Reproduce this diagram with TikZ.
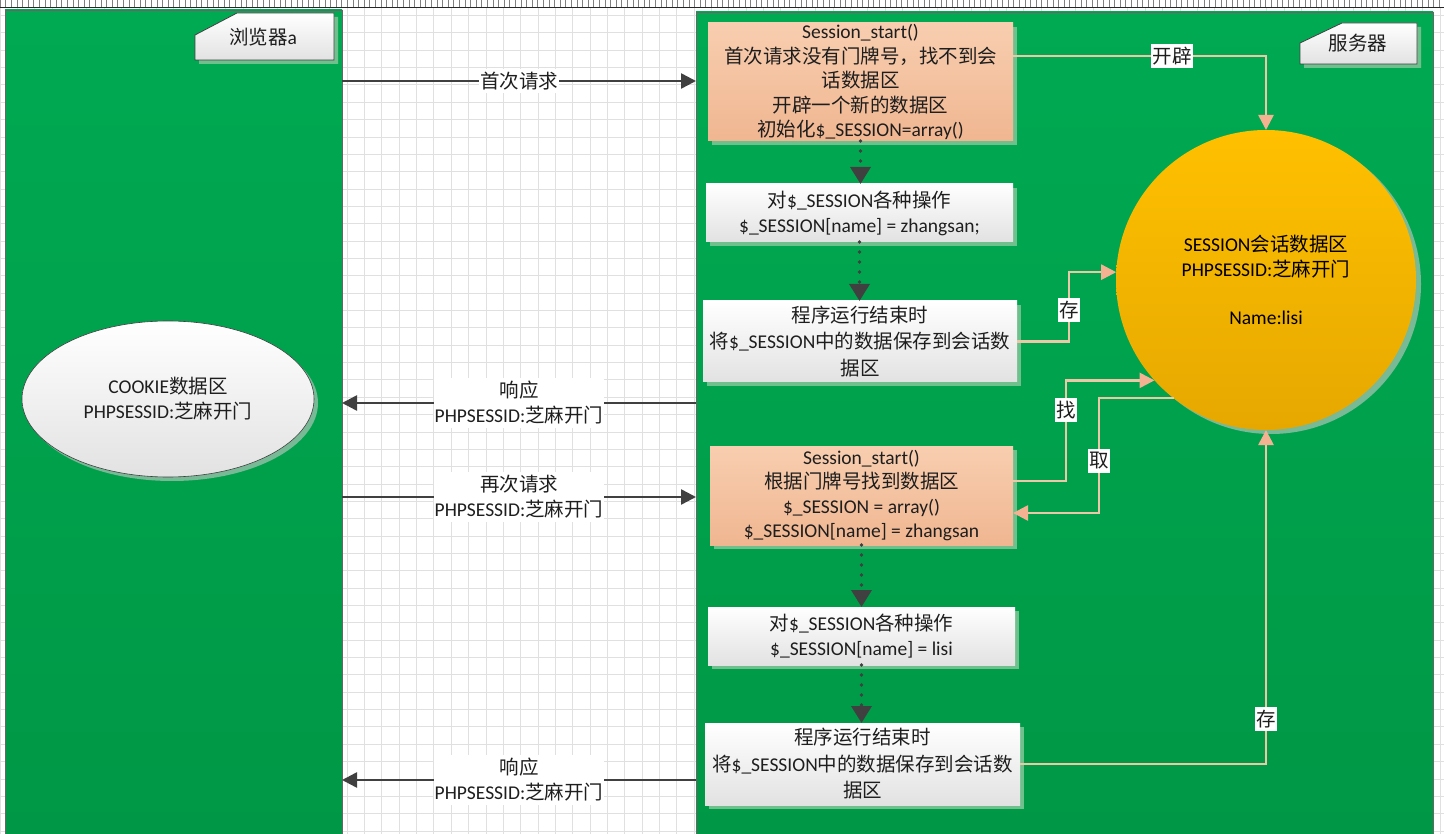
\documentclass[tikz,border=0pt]{standalone}
\usepackage{fontspec}
\setmainfont{Carlito}
\newfontfamily\zhfont{Noto Sans CJK SC}
\newcommand\zh[1]{{\zhfont #1}}
\usetikzlibrary{arrows.meta,shapes.geometric,shadows}
\definecolor{gridc}{RGB}{224,224,224}
\definecolor{gtop}{RGB}{0,170,82}
\definecolor{gbot}{RGB}{0,152,70}
\definecolor{shadowg}{RGB}{112,192,142}
\definecolor{shadowc}{RGB}{120,185,150}
\definecolor{peachtop}{RGB}{248,206,176}
\definecolor{peachbot}{RGB}{240,182,145}
\definecolor{boxbot}{RGB}{226,226,226}
\definecolor{darkline}{RGB}{64,64,64}
\definecolor{pkline}{RGB}{236,200,168}
\definecolor{pkhead}{RGB}{244,178,146}
\definecolor{goldtop}{RGB}{255,192,0}
\definecolor{goldbot}{RGB}{230,168,0}
\definecolor{txt}{RGB}{30,30,30}
\tikzset{
  base/.style={font=\fontsize{19.5}{25}\selectfont, text=txt, align=center, inner sep=0pt, outer sep=0pt},
  panel/.style={rectangle, top color=gtop, bottom color=gbot, draw=darkline!80, line width=0.8pt, inner sep=0pt, outer sep=0pt},
  boxshadow/.style={drop shadow={shadow xshift=4pt, shadow yshift=-4pt, fill=shadowg, opacity=1}},
  whitebox/.style={base, rectangle, top color=white, bottom color=boxbot, boxshadow},
  peachbox/.style={base, rectangle, top color=peachtop, bottom color=peachbot, boxshadow},
  darr/.style={draw=darkline, line width=2.5pt, -{Triangle[length=15pt,width=15pt]}},
  dotarr/.style={draw=darkline, line width=3.6pt, line cap=round, dash pattern=on 0pt off 10pt, -{Triangle[length=17pt,width=20pt]}},
  pk/.style={draw=pkline, line width=2.6pt, -{Triangle[length=15pt,width=15pt,color=pkhead]}},
  arrlbl/.style={base, fill=white, inner xsep=1pt, inner ysep=3pt},
  pklbl/.style={base, fill=white, inner xsep=1.5pt, inner ysep=3pt},
  tag/.style={draw=darkline, line width=0.8pt, top color=white, bottom color=boxbot},
}
\begin{document}
\begin{tikzpicture}[x=1pt,y=-1pt]
\useasboundingbox (0,0) rectangle (1444,834);
\fill[white] (0,0) rectangle (1444,834);
% grid
\foreach \i in {0,...,84} \draw[gridc, line width=0.6pt] (\i*17.35, 8) -- (\i*17.35, 834);
\foreach \j in {0,...,47} \draw[gridc, line width=0.6pt] (0, 15.4+\j*17.35) -- (1444, 15.4+\j*17.35);
% ruler
\fill[white] (0,0) rectangle (1444,7);
\foreach \i in {0,...,258} \draw[gray, line width=0.6pt] (\i*5.6, 0) -- (\i*5.6, 7);
\draw[black!85, line width=1.2pt] (0,7.5) -- (1444,7.5);

% panels
\node[panel, minimum width=337pt, minimum height=824pt] (lp) at (173.5,422) {};
\node[panel, minimum width=737pt, minimum height=822pt] (rp) at (1064.5,423) {};

% header tags
\fill[shadowg] (199,39) -- (241,17) -- (338,17) -- (338,64) -- (199,64) -- cycle;
\path[tag] (195,35) -- (237,13) -- (334,13) -- (334,60) -- (195,60) -- cycle;
\node[base] (browser) at (263,37) {\zh{浏览器}a};
\fill[shadowg] (1304,47) -- (1346,27) -- (1421,27) -- (1421,68) -- (1304,68) -- cycle;
\path[tag] (1300,43) -- (1342,23) -- (1417,23) -- (1417,64) -- (1300,64) -- cycle;
\node[base] (server) at (1358,43) {\zh{服务器}};

% cookie ellipse
\node[ellipse, base, minimum width=292pt, minimum height=156pt, draw=darkline, line width=0.6pt,
      top color=white, bottom color=boxbot, drop shadow={shadow xshift=4pt, shadow yshift=-4pt, fill=shadowc, opacity=1}]
      (cookie) at (168,399) {COOKIE\zh{数据区}\\PHPSESSID:\zh{芝麻开门}};

% session circle
\node[circle, base, text=black, minimum size=300pt, top color=goldtop, bottom color=goldbot,
      drop shadow={shadow xshift=5pt, shadow yshift=-4pt, fill=shadowc, opacity=1}]
      (circ) at (1266,280) {SESSION\zh{会话数据区}\\PHPSESSID:\zh{芝麻开门}\\[23pt]Name:lisi};

% server boxes
\node[peachbox, minimum width=305pt, minimum height=118pt, font=\fontsize{19.5}{24.5}\selectfont] (b1) at (860.5,82)
  {Session\_start()\\\zh{首次请求没有门牌号，找不到会}\\\zh{话数据区}\\\zh{开辟一个新的数据区}\\\zh{初始化}\$\_SESSION=array()};
\node[whitebox, minimum width=307pt, minimum height=58pt] (b2) at (859.5,213)
  {\zh{对}\$\_SESSION\zh{各种操作}\\\$\_SESSION[name] = zhangsan;};
\node[whitebox, minimum width=314pt, minimum height=81pt, font=\fontsize{19.5}{26.5}\selectfont] (b3) at (860,341.5)
  {\zh{程序运行结束时}\\\zh{将}\$\_SESSION\zh{中的数据保存到会话数}\\\zh{据区}};
\node[peachbox, minimum width=303pt, minimum height=99pt, font=\fontsize{19.5}{24.5}\selectfont] (b4) at (861.5,495.5)
  {Session\_start()\\\zh{根据门牌号找到数据区}\\\$\_SESSION = array()\\\$\_SESSION[name] = zhangsan};
\node[whitebox, minimum width=307pt, minimum height=58pt] (b5) at (861.5,636)
  {\zh{对}\$\_SESSION\zh{各种操作}\\\$\_SESSION[name] = lisi};
\node[whitebox, minimum width=315pt, minimum height=82pt, font=\fontsize{19.5}{26.5}\selectfont] (b6) at (862.5,764)
  {\zh{程序运行结束时}\\\zh{将}\$\_SESSION\zh{中的数据保存到会话数}\\\zh{据区}};

% dotted flow arrows
\draw[dotarr] (b1.south) -- (b1.south |- b2.north);
\draw[dotarr] (b2.south) -- (b2.south |- b3.north);
\draw[dotarr] (b4.south) -- (b4.south |- b5.north);
\draw[dotarr] (b5.south) -- (b5.south |- b6.north);

% browser <-> server arrows
\coordinate (ya1) at (0,81);
\coordinate (ya2) at (0,403);
\coordinate (ya3) at (0,497);
\coordinate (ya4) at (0,780);
\draw[darr] (lp.east |- ya1) -- node[arrlbl] (l1) {\zh{首次请求}} (rp.west |- ya1);
\draw[darr] (rp.west |- ya2) -- node[arrlbl] (l2) {\zh{响应}\\PHPSESSID:\zh{芝麻开门}} (lp.east |- ya2);
\draw[darr] (lp.east |- ya3) -- node[arrlbl] (l3) {\zh{再次请求}\\PHPSESSID:\zh{芝麻开门}} (rp.west |- ya3);
\draw[darr] (rp.west |- ya4) -- node[arrlbl] (l4) {\zh{响应}\\PHPSESSID:\zh{芝麻开门}} (lp.east |- ya4);

% session data connectors
\coordinate (ykp) at (0,56);
\coordinate (yzh) at (0,481);
\coordinate (yqu) at (0,513);
\coordinate (kcun) at (1069,310);
\coordinate (kzhao) at (1066,410);
\coordinate (kqu) at (1099,461);
\draw[pk] (b1.east |- ykp) -| node[pklbl, pos=0.315] (lkp) {\zh{开辟}} (circ.north);
\draw[pk] (b3.east) -| (kcun) |- (circ.177);
\node[pklbl] (lcun1) at (kcun) {\zh{存}};
\draw[pk] (b4.east |- yzh) -| (kzhao) |- (circ.222);
\node[pklbl] (lzhao) at (kzhao) {\zh{找}};
\draw[pk] (circ.232) -| (kqu) |- (b4.east |- yqu);
\node[pklbl] (lqu) at (kqu) {\zh{取}};
\draw[pk] (b6.east) -| node[pklbl, pos=0.567] (lcun2) {\zh{存}} (circ.south);
\end{tikzpicture}
\end{document}
